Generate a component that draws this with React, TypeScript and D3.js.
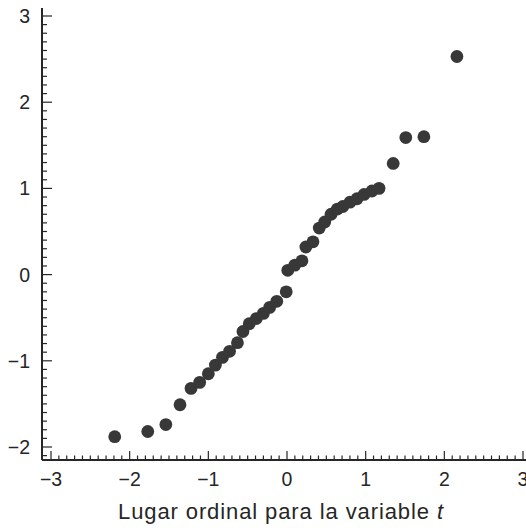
import React from "react";
import * as d3 from "d3";

const xValues = [-2.19, -1.77, -1.54, -1.36, -1.22, -1.11, -1.0, -0.91, -0.82, -0.73, -0.63, -0.56, -0.48, -0.39, -0.3, -0.22, -0.13, -0.01, 0.01, 0.1, 0.19, 0.24, 0.33, 0.41, 0.48, 0.56, 0.64, 0.71, 0.8, 0.89, 0.98, 1.08, 1.17, 1.35, 1.51, 1.74, 2.16];
const yValues = [-1.88, -1.82, -1.74, -1.51, -1.32, -1.25, -1.15, -1.05, -0.96, -0.89, -0.79, -0.66, -0.57, -0.51, -0.45, -0.38, -0.31, -0.2, 0.05, 0.11, 0.16, 0.32, 0.38, 0.54, 0.61, 0.7, 0.76, 0.79, 0.84, 0.88, 0.93, 0.97, 1.0, 1.29, 1.59, 1.6, 2.53];
const xTicks = [-3, -2, -1, 0, 1, 2, 3];
const yTicks = [-2, -1, 0, 1, 2, 3];
const xLabel = "Lugar ordinal para la variable ";
const xLabelItalic = "t";

const W = 526;
const H = 530;
const axisX = 42;
const axisY = 460;

export default function App() {
  const x = d3.scaleLinear().domain([-3, 3]).range([51, 523]);
  const y = d3.scaleLinear().domain([-2, 3]).range([447, 16]);
  const xMinor = d3.range(-30, 31).map((d) => d / 10).filter((d) => x(d) > axisX + 2);
  const yMinor = d3.range(-21, 31).map((d) => d / 10).filter((d) => y(d) < axisY - 2);
  const isMajor = (v: number) => Math.abs(v - Math.round(v)) < 1e-6;
  const font = "'Liberation Sans', Arial, Helvetica, sans-serif";
  const ink = "#262626";
  const fmt = (v: number) => (v < 0 ? "\u2212" + Math.abs(v) : String(v));
  return (
    <svg width={W} height={H} style={{ position: "absolute", left: 0, top: 0, background: "#fff" }}>
      <rect x={0} y={0} width={W} height={H} fill="#ffffff" />
      <line x1={axisX} y1={axisY} x2={W} y2={axisY} stroke={ink} strokeWidth={2} />
      <line x1={axisX} y1={axisY} x2={axisX} y2={8} stroke={ink} strokeWidth={2} />
      {xMinor.map((v, i) => (
        <line key={"xm" + i} x1={x(v)} x2={x(v)} y1={axisY} y2={axisY - (isMajor(v) ? 9 : 4.5)} stroke={ink} strokeWidth={1.2} />
      ))}
      {yMinor.map((v, i) => (
        <line key={"ym" + i} x1={axisX} x2={axisX + (isMajor(v) ? 10 : 5)} y1={y(v)} y2={y(v)} stroke={ink} strokeWidth={1.2} />
      ))}
      {xTicks.map((v) => (
        <text key={"xt" + v} x={x(v)} y={486} textAnchor="middle" fontFamily={font} fontSize={19.5} fill={ink}>
          {fmt(v)}
        </text>
      ))}
      {yTicks.map((v) => (
        <text key={"yt" + v} x={30} y={y(v) + 7} textAnchor="end" fontFamily={font} fontSize={19.5} fill={ink}>
          {fmt(v)}
        </text>
      ))}
      <text x={118} y={519} textAnchor="start" fontFamily={font} fontSize={22} fill={ink} textLength={325} lengthAdjust="spacing">
        {xLabel}
        <tspan fontStyle="italic">{xLabelItalic}</tspan>
      </text>
      {xValues.map((v, i) => (
        <circle key={"p" + i} cx={x(v)} cy={y(yValues[i])} r={6.4} fill="#383838" />
      ))}
    </svg>
  );
}
